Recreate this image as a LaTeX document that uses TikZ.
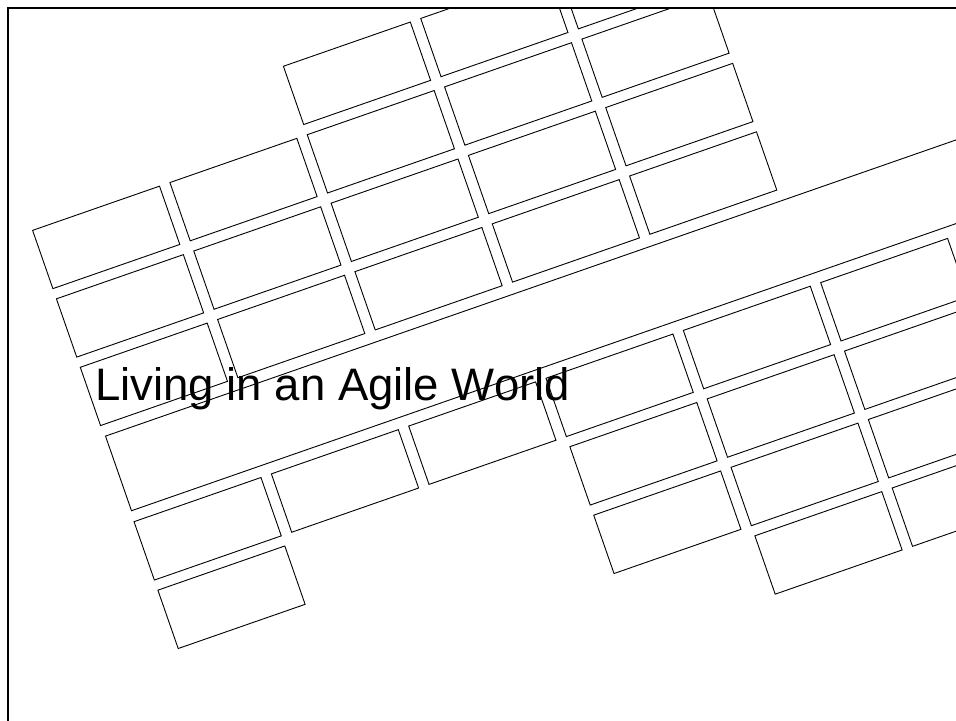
\documentclass[tikz,border=0pt]{standalone}
\usepackage{fontspec}
\setmainfont{Liberation Sans}
\begin{document}
\begin{tikzpicture}[x=1bp,y=-1bp,
  brick/.style={draw=black, line width=0.9bp},
  frameline/.style={draw=black, line width=2bp},
  titletext/.style={anchor=base west, inner sep=0pt, font=\fontsize{45.7pt}{50pt}\selectfont}]
\useasboundingbox (0,0) rectangle (956,721);
\begin{scope}
  \clip (8.3,8.3) rectangle (956,721);
  \begin{scope}[shift={(32.5,230.4)}, rotate=19.2]
    % upper cluster
    \foreach \c/\r in {2/-1,3/-1,4/-1,
                       0/0,1/0,2/0,3/0,4/0,
                       0/1,1/1,2/1,3/1,4/1,
                       0/2,1/2,2/2,3/2,4/2}
      \draw[brick] ({0.1+145.42*\c},{72.5*\r}) rectangle ++(134.4,61.7);
    % long bar
    \draw[brick] (1.3,218.3) rectangle (1300,297.3);
    % lower clusters
    \foreach \c/\k in {0/0,1/0,2/0,0/1,
                       3/0,4/0,5/0,
                       3/1,4/1,5/1,
                       3/2,4/2,5/2,
                       4/3,5/3}
      \draw[brick] ({0.1+145.42*\c},{308.5+72.5*\k}) rectangle ++(134.4,61.8);
  \end{scope}
\end{scope}
\node[titletext] (title) at (95,400.5) {Living in an Agile World};
\draw[frameline] (8.3,730) -- (8.3,8.3) -- (970,8.3);
\end{tikzpicture}
\end{document}
